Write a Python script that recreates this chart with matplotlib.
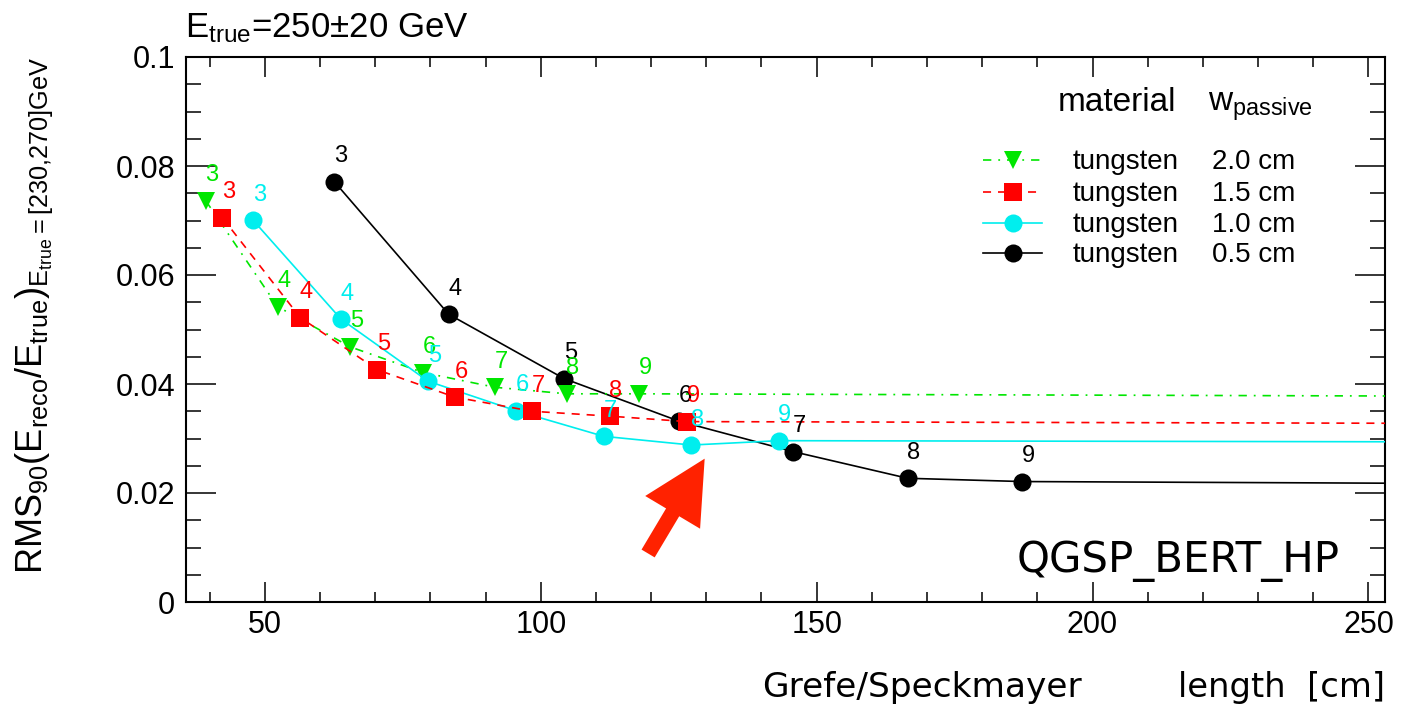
import matplotlib
matplotlib.use("Agg")
import matplotlib.pyplot as plt
from matplotlib.lines import Line2D
from matplotlib.ticker import MultipleLocator, FuncFormatter
from matplotlib import font_manager

# ---------------------------------------------------------------- data
layers = [3, 4, 5, 6, 7, 8, 9]

# calorimeter length [cm] and RMS90 resolution per tungsten thickness
len_w20 = [39.3, 52.3, 65.5, 78.7, 91.7, 104.7, 117.8]
rms_w20 = [0.0736, 0.0542, 0.0468, 0.0421, 0.0394, 0.0382, 0.0382]

len_w15 = [42.3, 56.4, 70.4, 84.4, 98.4, 112.5, 126.5]
rms_w15 = [0.0705, 0.0522, 0.0426, 0.0376, 0.0350, 0.0341, 0.0331]

len_w10 = [47.9, 63.8, 79.6, 95.5, 111.4, 127.3, 143.1]
rms_w10 = [0.0700, 0.0519, 0.0405, 0.0351, 0.0304, 0.0288, 0.0296]

len_w05 = [62.6, 83.3, 104.2, 125.0, 145.7, 166.5, 187.3]
rms_w05 = [0.0771, 0.0528, 0.0410, 0.0332, 0.0276, 0.0227, 0.0221]

# value each curve levels off to at the right end of the range
tail_w20 = 0.0378
tail_w15 = 0.0328
tail_w10 = 0.0294
tail_w05 = 0.0218

x_range = (35.7, 253.0)
y_range = (0.0, 0.1)

legend_labels = ["2.0 cm", "1.5 cm", "1.0 cm", "0.5 cm"]

# ---------------------------------------------------------------- style
W, H = 1402, 707
plt.rcParams["font.family"] = ["Liberation Sans", "DejaVu Sans"]
plt.rcParams["mathtext.fontset"] = "custom"
plt.rcParams["mathtext.rm"] = "Liberation Sans"
plt.rcParams["mathtext.it"] = "Liberation Sans"
plt.rcParams["mathtext.bf"] = "Liberation Sans"
plt.rcParams["mathtext.default"] = "rm"
plt.rcParams["lines.scale_dashes"] = False


def fx(px):
    return px / W


def fy(py):
    return 1 - py / H


# condensed sans for the free-standing labels, if the system has it
try:
    font_manager.findfont("DejaVu Sans Condensed", fallback_to_default=False)
    cond_family = ["DejaVu Sans Condensed"]
    cond_scale = 1.0
except Exception:
    cond_family = ["DejaVu Sans"]
    cond_scale = 0.9

GREEN = "#00e600"
RED = "#ff0000"
CYAN = "#00eeee"
BLACK = "#000000"

series = [
    # x, y, tail, color, marker, dashes, zorder
    (len_w05, rms_w05, tail_w05, BLACK, "o", None, 3),
    (len_w20, rms_w20, tail_w20, GREEN, "v", (6, 5, 1.3, 5), 4),
    (len_w10, rms_w10, tail_w10, CYAN, "o", None, 5),
    (len_w15, rms_w15, tail_w15, RED, "s", (5.8, 5), 6),
]

fig = plt.figure(figsize=(W / 100, H / 100), dpi=100)
ax = fig.add_axes([fx(186), fy(602), fx(1385) - fx(186), fy(57) - fy(602)])
ax.set_xlim(*x_range)
ax.set_ylim(*y_range)

for xs, ys, tail, col, mk, dash, z in series:
    line_x = list(xs) + [x_range[1]]
    line_y = list(ys) + [tail]
    ln, = ax.plot(line_x, line_y, color=col, lw=1.2, zorder=z, clip_on=True)
    if dash is not None:
        ln.set_dashes(dash)
    ms = 13 if mk != "s" else 12.5
    ax.plot(xs, ys, ls="none", marker=mk, ms=ms, color=col,
            markeredgewidth=0, zorder=z + 0.5)
    for n, x, y in zip(layers, xs, ys):
        ax.annotate(str(n), (x, y), xytext=(4.5, 14), textcoords="offset points",
                    ha="center", va="baseline", fontsize=17, color=col, zorder=10)

# axes frame and ticks
for sp in ax.spines.values():
    sp.set_linewidth(1.5)
ax.xaxis.set_major_locator(MultipleLocator(50))
ax.xaxis.set_minor_locator(MultipleLocator(10))
ax.yaxis.set_major_locator(MultipleLocator(0.02))
ax.yaxis.set_minor_locator(MultipleLocator(0.005))
ax.yaxis.set_major_formatter(FuncFormatter(lambda v, p: "0" if abs(v) < 1e-12 else f"{v:g}"))
ax.tick_params(axis="both", which="both", direction="in", top=True, right=True,
               width=1.1, labelsize=22)
ax.tick_params(axis="x", which="major", length=14.5, pad=6)
ax.tick_params(axis="x", which="minor", length=7.2)
ax.tick_params(axis="y", which="major", length=21.6, pad=8)
ax.tick_params(axis="y", which="minor", length=10.8)

# pointer arrow
ax.annotate("", xy=(129.7, 0.0263), xytext=(119.45, 0.0089),
            arrowprops=dict(arrowstyle="simple,head_length=45,head_width=46,tail_width=11",
                            mutation_scale=1, color="#ff2200", lw=0,
                            shrinkA=0, shrinkB=0), zorder=12)

# title and axis titles
fig.text(fx(185), fy(37), r"$E_{true}$=250$\pm$20 GeV", fontsize=25,
         ha="left", va="baseline")
fig.text(fx(42), fy(57),
         r"RMS$_{90}$(E$_{reco}$/E$_{true}$)$_{E_{true}=[230{,}270]GeV}$",
         fontsize=26, rotation=90, rotation_mode="anchor",
         ha="right", va="baseline")
fig.text(fx(762), fy(697), "Grefe/Speckmayer", fontsize=27.5 * cond_scale,
         family=cond_family, ha="left", va="baseline")
fig.text(fx(1385), fy(697), "length  [cm]", fontsize=27 * cond_scale,
         family=cond_family, ha="right", va="baseline")
fig.text(fx(1340), fy(572), "QGSP_BERT_HP", fontsize=33.5 * cond_scale,
         family=cond_family, ha="right", va="baseline")

# legend
fig.text(fx(1058), fy(111), "material", fontsize=24, ha="left", va="baseline")
fig.text(fx(1208), fy(111), r"w$_{passive}$", fontsize=24, ha="left", va="baseline")

legend_rows = [
    (160, GREEN, "v", (6, 5, 1.3, 5)),
    (192, RED, "s", (5.8, 5)),
    (223, CYAN, "o", None),
    (253, BLACK, "o", None),
]
for (ry, col, mk, dash), lab in zip(legend_rows, legend_labels):
    ln = Line2D([fx(983), fx(1042)], [fy(ry), fy(ry)], transform=fig.transFigure,
                color=col, lw=1.2)
    if dash is not None:
        ln.set_dashes(dash)
    fig.add_artist(ln)
    fig.add_artist(Line2D([fx(1013)], [fy(ry)], transform=fig.transFigure,
                          ls="none", marker=mk, ms=13 if mk != "s" else 12.5,
                          color=col, markeredgewidth=0))
    fig.text(fx(1073), fy(ry + 9), "tungsten", fontsize=20, ha="left", va="baseline")
    fig.text(fx(1212), fy(ry + 9), lab, fontsize=20, ha="left", va="baseline")

fig.savefig("out.png", dpi=100)
